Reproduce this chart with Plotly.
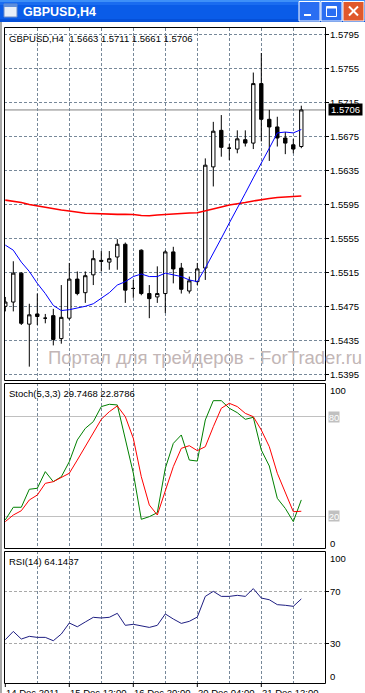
import plotly.graph_objects as go

W, H = 365, 693

symbol = "GBPUSD,H4"
tick_dates = ["14 Dec 2011", "15 Dec 12:00", "16 Dec 20:00", "20 Dec 04:00", "21 Dec 12:00"]
tick_bars = [0, 8, 16, 24, 32]
price_ticks = [1.5395, 1.5435, 1.5475, 1.5515, 1.5555, 1.5595, 1.5635, 1.5675, 1.5715, 1.5755, 1.5795]
stoch_levels = [80, 20]
rsi_levels = [70, 30]
watermark = "Портал для трейдеров - ForTrader.ru"

open_ = [1.5475, 1.5480, 1.5514, 1.5454, 1.5466, 1.5461, 1.5464, 1.5437, 1.5461, 1.5507,
         1.5491, 1.5512, 1.5529, 1.5527, 1.5533, 1.5548, 1.5496, 1.5541, 1.5490, 1.5486,
         1.5490, 1.5539, 1.5520, 1.5493, 1.5504, 1.5520, 1.5639, 1.5682, 1.5661, 1.5660,
         1.5671, 1.5667, 1.5737, 1.5695, 1.5686, 1.5673, 1.5665, 1.5663]
high = [1.5486, 1.5528, 1.5515, 1.5478, 1.5490, 1.5466, 1.5472, 1.5500, 1.5526, 1.5516,
        1.5516, 1.5541, 1.5540, 1.5540, 1.5554, 1.5550, 1.5506, 1.5542, 1.5500, 1.5522,
        1.5541, 1.5545, 1.5526, 1.5510, 1.5526, 1.5649, 1.5692, 1.5700, 1.5666, 1.5682,
        1.5682, 1.5750, 1.5773, 1.5706, 1.5698, 1.5680, 1.5672, 1.5711]
low = [1.5469, 1.5469, 1.5453, 1.5404, 1.5453, 1.5455, 1.5429, 1.5431, 1.5459, 1.5488,
       1.5479, 1.5500, 1.5516, 1.5518, 1.5518, 1.5479, 1.5485, 1.5488, 1.5461, 1.5479,
       1.5467, 1.5502, 1.5490, 1.5490, 1.5500, 1.5506, 1.5616, 1.5651, 1.5647, 1.5655,
       1.5663, 1.5660, 1.5669, 1.5646, 1.5663, 1.5654, 1.5655, 1.5661]
close = [1.5480, 1.5514, 1.5455, 1.5465, 1.5463, 1.5461, 1.5436, 1.5462, 1.5507, 1.5490,
         1.5511, 1.5531, 1.5528, 1.5531, 1.5548, 1.5494, 1.5496, 1.5490, 1.5484, 1.5490,
         1.5539, 1.5519, 1.5495, 1.5505, 1.5519, 1.5641, 1.5681, 1.5662, 1.5661, 1.5672,
         1.5667, 1.5737, 1.5695, 1.5686, 1.5673, 1.5667, 1.5660, 1.5706]

ma_fast = [1.5547, 1.5541, 1.5527, 1.5516, 1.5502, 1.5490, 1.5476, 1.5470, 1.5471, 1.5473,
           1.5475, 1.5478, 1.5484, 1.5491, 1.5500, 1.5504, 1.5510, 1.5513, 1.5510, 1.5510,
           1.5514, 1.5512, 1.5510, 1.5506, 1.5504, 1.5520, 1.5537, 1.5555, 1.5573, 1.5590,
           1.5608, 1.5626, 1.5643, 1.5661, 1.5679, 1.5680, 1.5679, 1.5683]
ma_slow = [1.55999, 1.55989, 1.55971, 1.55948, 1.55930, 1.55918, 1.55901, 1.55883, 1.55871, 1.55854,
           1.55844, 1.55842, 1.55836, 1.55836, 1.55832, 1.55832, 1.55830, 1.55818, 1.55816, 1.55824,
           1.55832, 1.55836, 1.55842, 1.55848, 1.55851, 1.55871, 1.55895, 1.55918, 1.55942, 1.55954,
           1.55971, 1.55989, 1.56006, 1.56018, 1.56030, 1.56036, 1.56042, 1.56048]

stoch_k = [17.6, 25.3, 25.3, 36.2, 36.8, 46.9, 40.8, 43.8, 52.9, 66.1,
           73.1, 77.2, 86.3, 87.7, 87.3, 66.0, 46.0, 18.0, 19.6, 22.0,
           48.9, 64.0, 69.1, 53.9, 53.3, 78.2, 89.9, 89.9, 85.3, 82.6,
           78.6, 79.8, 60.0, 50.3, 30.7, 24.6, 16.6, 29.7468]
stoch_d = [16.6, 20.6, 23.2, 29.7, 32.7, 39.8, 40.8, 43.4, 45.9, 53.9,
           62.0, 70.1, 78.6, 83.2, 86.7, 80.2, 67.1, 43.8, 26.7, 20.6,
           35.8, 49.9, 61.0, 62.6, 59.6, 62.0, 74.1, 85.3, 88.3, 86.3,
           82.2, 80.2, 72.1, 62.0, 45.9, 34.7, 22.6, 22.8786]
rsi = [32.6, 39.0, 33.1, 35.2, 34.4, 34.4, 31.8, 37.0, 45.5, 42.6,
       46.3, 49.9, 49.4, 49.9, 53.0, 43.7, 44.5, 43.2, 42.1, 43.7,
       52.5, 48.6, 45.2, 46.8, 50.1, 66.1, 70.0, 66.1, 66.1, 66.9,
       66.1, 72.1, 64.8, 63.5, 59.7, 59.2, 58.4, 64.1437]

FONT = "Liberation Sans, Arial, sans-serif"


def X(px):
    return px / W


def Y(py):
    return 1 - py / H


bars = list(range(len(close)))
grid_bars = list(range(4, 37, 4))
GRID = "#778899"
DASH = "3px,2px"

fig = go.Figure()
fig.add_trace(go.Candlestick(
    x=bars, open=open_, high=high, low=low, close=close,
    increasing=dict(line=dict(color="black", width=1), fillcolor="white"),
    decreasing=dict(line=dict(color="black", width=1), fillcolor="black"),
    whiskerwidth=0, xaxis="x", yaxis="y", hoverinfo="skip", showlegend=False))
fig.add_trace(go.Scatter(x=bars, y=ma_slow, mode="lines", line=dict(color="#FF0000", width=1.6),
                         xaxis="x", yaxis="y", showlegend=False, hoverinfo="skip"))
fig.add_trace(go.Scatter(x=bars, y=ma_fast, mode="lines", line=dict(color="#0000FF", width=1),
                         xaxis="x", yaxis="y", showlegend=False, hoverinfo="skip"))
fig.add_trace(go.Scatter(x=bars, y=stoch_k, mode="lines", line=dict(color="#008000", width=1),
                         xaxis="x2", yaxis="y2", showlegend=False, hoverinfo="skip"))
fig.add_trace(go.Scatter(x=bars, y=stoch_d, mode="lines", line=dict(color="#FF0000", width=1),
                         xaxis="x2", yaxis="y2", showlegend=False, hoverinfo="skip"))
fig.add_trace(go.Scatter(x=bars, y=rsi, mode="lines", line=dict(color="#1E1E82", width=1),
                         xaxis="x3", yaxis="y3", showlegend=False, hoverinfo="skip"))

xdom = [X(4), X(325)]
xr = [-0.1625, (325 - 5.3) / 8]
common_x = dict(domain=xdom, range=xr, tickmode="array", tickvals=grid_bars, showticklabels=False,
                ticks="", zeroline=False, showline=False, fixedrange=True,
                showgrid=True, gridcolor=GRID, gridwidth=1, griddash=DASH)
tfont = dict(family=FONT, size=9.5, color="black")

fig.update_layout(
    width=W, height=H, margin=dict(l=0, r=0, t=0, b=0),
    paper_bgcolor="white", plot_bgcolor="white", showlegend=False, boxgap=0.4,
    xaxis=dict(**common_x, anchor="y", rangeslider=dict(visible=False)),
    xaxis2=dict(**common_x, anchor="y2"),
    xaxis3=dict(**common_x, anchor="y3"),
    yaxis=dict(domain=[Y(380), Y(28)], range=[1.538829, 1.580241], side="right", anchor="x",
               tickmode="array", tickvals=price_ticks, showticklabels=False,
               ticks="outside", ticklen=3, tickcolor="black",
               showgrid=True, gridcolor=GRID, griddash=DASH, zeroline=False, showline=False,
               fixedrange=True),
    yaxis2=dict(domain=[Y(549), Y(383)], range=[0, 100.6], side="right", anchor="x2",
                tickmode="array", tickvals=stoch_levels, showticklabels=False, ticks="",
                showgrid=True, gridcolor="#C0C0C0", zeroline=False, showline=False, fixedrange=True),
    yaxis3=dict(domain=[Y(683), Y(551)], range=[-0.9, 101.2], side="right", anchor="x3",
                tickmode="array", tickvals=rsi_levels, showticklabels=False,
                ticks="outside", ticklen=3, tickcolor="black",
                showgrid=True, gridcolor="#A9A9A9", griddash=DASH, zeroline=False, showline=False,
                fixedrange=True),
)

shapes = []
# pane frames
for (t, b) in [(27.5, 380.5), (383.5, 548.5), (551.5, 683.5)]:
    shapes.append(dict(type="rect", xref="paper", yref="paper", x0=X(4.5), x1=X(325.5),
                       y0=Y(b), y1=Y(t), line=dict(color="black", width=1), layer="above"))
# bid line
shapes.append(dict(type="line", xref="x domain", yref="y", x0=0, x1=1, y0=close[-1], y1=close[-1],
                   line=dict(color="#808080", width=1), layer="below"))
# bottom tick marks
for b in tick_bars:
    shapes.append(dict(type="line", xref="x3", yref="paper", x0=b, x1=b, y0=Y(687), y1=Y(683.5),
                       line=dict(color="black", width=1)))
# left window border
shapes.append(dict(type="rect", xref="paper", yref="paper", x0=0, x1=X(2), y0=0, y1=Y(22),
                   fillcolor="#A8A8A8", line=dict(width=0)))
# title bar
for (t, b, c) in [(0, 2, "#3D8FF8"), (2, 5, "#1A6CF0"), (5, 19, "#0A5CE8"), (19, 22, "#0550D8")]:
    shapes.append(dict(type="rect", xref="paper", yref="paper", x0=0, x1=1, y0=Y(b), y1=Y(t),
                       fillcolor=c, line=dict(width=0)))
# icon
shapes.append(dict(type="rect", xref="paper", yref="paper", x0=X(4), x1=X(17), y0=Y(17), y1=Y(4),
                   fillcolor="#E8EEF8", line=dict(color="#6C8CC8", width=1)))
shapes.append(dict(type="rect", xref="paper", yref="paper", x0=X(4), x1=X(17), y0=Y(7), y1=Y(4),
                   fillcolor="#5E8EDC", line=dict(width=0)))
# buttons
for (x0, x1, c) in [(299, 320, "#2A6EF2"), (321, 342, "#2A6EF2"), (343, 364, "#E0582C")]:
    shapes.append(dict(type="rect", xref="paper", yref="paper", x0=X(x0), x1=X(x1), y0=Y(21), y1=Y(1.5),
                       fillcolor=c, line=dict(color="white", width=1)))
shapes.append(dict(type="rect", xref="paper", yref="paper", x0=X(304), x1=X(311), y0=Y(16), y1=Y(14),
                   fillcolor="white", line=dict(width=0)))
shapes.append(dict(type="rect", xref="paper", yref="paper", x0=X(326.5), x1=X(336.5), y0=Y(16.5), y1=Y(6.5),
                   fillcolor="rgba(0,0,0,0)", line=dict(color="white", width=1)))
shapes.append(dict(type="rect", xref="paper", yref="paper", x0=X(326.5), x1=X(336.5), y0=Y(8.5), y1=Y(6.5),
                   fillcolor="white", line=dict(width=0)))
shapes.append(dict(type="line", xref="paper", yref="paper", x0=X(349), x1=X(358), y0=Y(6.5), y1=Y(15.5),
                   line=dict(color="white", width=2)))
shapes.append(dict(type="line", xref="paper", yref="paper", x0=X(358), x1=X(349), y0=Y(6.5), y1=Y(15.5),
                   line=dict(color="white", width=2)))
fig.update_layout(shapes=shapes)

ann = []
ann.append(dict(text="<b>" + symbol + "</b>", x=X(21), y=Y(11.5), xref="paper", yref="paper",
                xanchor="left", yanchor="middle", showarrow=False,
                font=dict(family=FONT, size=12.5, color="white")))
ann.append(dict(text=f"{symbol}  {open_[-1]:.4f} {high[-1]:.4f} {low[-1]:.4f} {close[-1]:.4f}",
                x=X(7), y=Y(38.5), xref="paper", yref="paper", xanchor="left", yanchor="middle",
                showarrow=False, font=tfont))
ann.append(dict(text=f"Stoch(5,3,3) {stoch_k[-1]:.4f} {stoch_d[-1]:.4f}",
                x=X(7), y=Y(393), xref="paper", yref="paper", xanchor="left", yanchor="middle",
                showarrow=False, font=tfont))
ann.append(dict(text=f"RSI(14) {rsi[-1]:.4f}",
                x=X(7), y=Y(561), xref="paper", yref="paper", xanchor="left", yanchor="middle",
                showarrow=False, font=tfont))
# price scale labels
for v in price_ticks:
    ann.append(dict(text=f"{v:.4f}", x=X(328), y=v, xref="paper", yref="y", xanchor="left",
                    yanchor="middle", showarrow=False, font=tfont))
# watermark
ann.append(dict(text=watermark, x=X(46), y=Y(357), xref="paper", yref="paper", xanchor="left",
                yanchor="middle", showarrow=False, font=dict(family=FONT, size=18.5, color="#C2B6B6")))
# bid price box
ann.append(dict(text=f"{close[-1]:.4f}", x=X(327.5), y=close[-1], xref="paper", yref="y",
                xanchor="left", yanchor="middle", showarrow=False, bgcolor="black",
                font=dict(family=FONT, size=9.5, color="white"), width=33, height=11, borderpad=0))
# stoch scale
for txt, py_ in [("100", 390), ("0", 543)]:
    ann.append(dict(text=txt, x=X(328), y=Y(py_), xref="paper", yref="paper", xanchor="left",
                    yanchor="middle", showarrow=False, font=tfont))
for lv in stoch_levels:
    ann.append(dict(text=str(lv), x=X(328), y=lv, xref="paper", yref="y2", xanchor="left",
                    yanchor="middle", showarrow=False, bgcolor="#C0C0C0",
                    font=dict(family=FONT, size=9.5, color="white"), width=10, height=10, borderpad=0))
# rsi scale
for txt, py_ in [("100", 558), ("0", 676)]:
    ann.append(dict(text=txt, x=X(328), y=Y(py_), xref="paper", yref="paper", xanchor="left",
                    yanchor="middle", showarrow=False, font=tfont))
for lv in rsi_levels:
    ann.append(dict(text=str(lv), x=X(328), y=lv, xref="paper", yref="y3", xanchor="left",
                    yanchor="middle", showarrow=False, font=tfont))
# dates
for b, d in zip(tick_bars, tick_dates):
    ann.append(dict(text=d, x=b, y=Y(685), xref="x3", yref="paper", xanchor="left", yanchor="top",
                    showarrow=False, font=tfont, xshift=-1))
fig.update_layout(annotations=ann)

fig.write_html("out.html", config={"displayModeBar": False, "staticPlot": True},
               post_script="document.body.style.margin='0';document.body.style.overflow='hidden';")
